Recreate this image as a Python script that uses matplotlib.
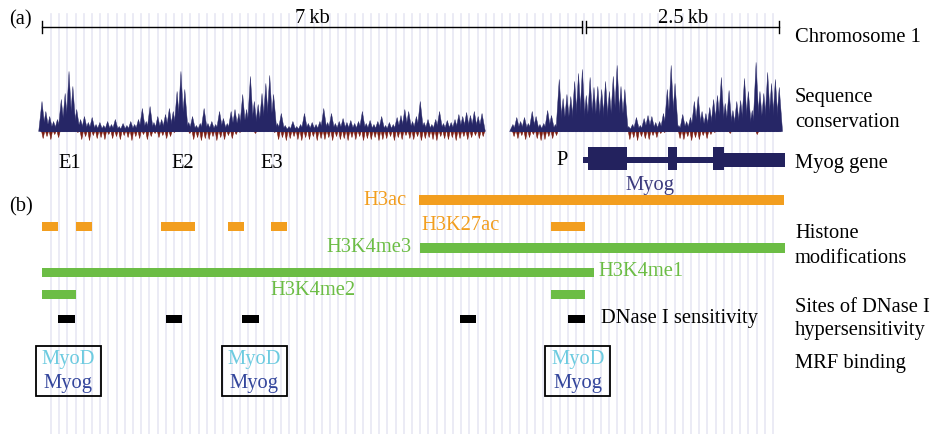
import numpy as np
import matplotlib
matplotlib.use("Agg")
import matplotlib.pyplot as plt
from matplotlib.patches import Rectangle
from matplotlib.collections import PolyCollection

# ---------------------------------------------------------------------------
# Data (positions in kb along the locus, conservation in score units)
# ---------------------------------------------------------------------------

PX_PER_KB = 77.2
X0_PX = 42          # pixel where kb 0 sits

step = 0.05
cons_start = [0.0, 6.10]

cons_up_1 = [30, 20, 15, 10, 12, 32, 38, 60, 45, 22,
             12, 15, 9, 14, 7, 9, 6, 10, 7, 12,
             5, 8, 6, 10, 7, 12, 23, 10, 25, 9,
             15, 12, 17, 23, 20, 40, 60, 42, 9, 15,
             6, 8, 23, 8, 10, 7, 20, 13, 8, 20,
             22, 18, 37, 22, 55, 30, 27, 38, 48, 56,
             37, 8, 18, 6, 5, 10, 5, 7, 18, 8,
             9, 7, 10, 23, 9, 18, 8, 10, 13, 9,
             11, 8, 10, 20, 8, 11, 7, 10, 15, 6,
             9, 7, 14, 16, 22, 20, 10, 15, 30, 9,
             12, 7, 12, 20, 8, 11, 9, 12, 17, 15,
             19, 16, 20, 15, 18]
cons_dn_1 = [8, 6, 9, 4, 7, 0, 0, 0, 0, 2,
             9, 6, 10, 5, 8, 7, 9, 4, 8, 6,
             9, 5, 7, 10, 6, 8, 4, 9, 6, 3,
             7, 5, 8, 6, 2, 0, 0, 0, 3, 9,
             7, 10, 8, 9, 6, 10, 7, 9, 5, 8,
             4, 2, 0, 0, 0, 3, 0, 0, 0, 0,
             2, 9, 7, 10, 8, 6, 9, 10, 7, 9,
             6, 10, 8, 9, 7, 10, 6, 9, 8, 10,
             7, 9, 6, 10, 8, 9, 7, 10, 9, 8,
             6, 10, 7, 9, 5, 8, 9, 6, 10, 8,
             7, 9, 10, 6, 8, 9, 7, 10, 8, 6,
             9, 7, 5, 8, 6]

cons_up_2 = [7, 14, 10, 14, 8, 20, 15, 7, 8, 21,
             16, 7, 52, 33, 37, 35, 50, 58, 62, 36,
             54, 44, 45, 42, 50, 40, 55, 66, 45, 42,
             5, 7, 14, 6, 13, 16, 15, 9, 10, 18,
             42, 66, 48, 6, 17, 10, 14, 30, 35, 20,
             18, 24, 32, 36, 54, 28, 41, 21, 30, 31,
             53, 40, 21, 69, 40, 38, 59, 48, 52, 44]
cons_dn_2 = [6, 8, 5, 9, 7, 4, 8, 10, 9, 6,
             8, 5, 0, 0, 0, 0, 0, 0, 0, 0,
             0, 0, 0, 0, 0, 0, 0, 0, 0, 0,
             9, 7, 10, 6, 8, 9, 5, 7, 3, 2,
             0, 0, 0, 8, 9, 6, 10, 7, 9, 5,
             8, 4, 2, 0, 0, 0, 3, 0, 0, 0,
             0, 0, 0, 4, 0, 0, 0, 0, 0, 0]

h3ac = [(4.88, 9.61)]
h3k27ac = [(0.0, 0.21), (0.44, 0.65), (1.54, 1.98), (2.41, 2.62),
           (2.97, 3.17), (6.59, 7.03)]
h3k4me3 = [(4.90, 9.62)]
h3k4me1 = [(0.0, 7.15)]
h3k4me2 = [(0.0, 0.44), (6.59, 7.03)]
dnase = [(0.21, 0.43), (1.61, 1.81), (2.59, 2.81), (5.41, 5.62), (6.81, 7.03)]
mrf_sites = [0.34, 2.75, 6.94]

gene_span = (7.01, 9.62)
gene_exons = [(7.07, 7.58), (8.11, 8.23), (8.69, 8.83)]
gene_utr = (8.83, 9.62)

elements = ["E1", "E2", "E3", "P"]
element_pos = [0.36, 1.83, 2.97, 6.74]

scale_segments = [(0.0, 7.0), (7.05, 9.55)]
scale_labels = ["7\u2009kb", "2.5\u2009kb"]

# ---------------------------------------------------------------------------
# Theme
# ---------------------------------------------------------------------------

NAVY = "#23225e"
CONS_BLUE = "#262666"
CONS_RED = "#7a1c12"
ORANGE = "#f29e1f"
GREEN = "#6cbd45"
GRID = "#e8e8f3"
CYAN = "#6dcbe0"
MYOG_BLUE = "#34469c"
FONT = "Liberation Serif"
FS = 14.8


def px(x_px):
    return (x_px - X0_PX) / PX_PER_KB


def spikes(xs, hs, base, half_w, sign):
    # one triangle per sample, tip at the sample value
    return [[(x - half_w, base), (x, base + sign * h), (x + half_w, base)]
            for x, h in zip(xs, hs) if h > 0]


plt.rcParams["font.family"] = [FONT, "DejaVu Serif"]

fig = plt.figure(figsize=(9.31, 4.34), dpi=100)
ax = fig.add_axes([0, 0, 1, 1])
ax.set_xlim(px(0), px(931))
ax.set_ylim(434, 0)
ax.axis("off")

# ---- background grid ----
for gx in np.linspace(px(51), px(773), 89):
    ax.plot([gx, gx], [14, 434], color=GRID, lw=1.2, zorder=0)

# ---- scale bar ----
for (a, b), lab in zip(scale_segments, scale_labels):
    ax.plot([a, b], [27, 27], color="black", lw=1.0)
    ax.plot([a, a], [21, 33], color="black", lw=1.0)
    ax.plot([b, b], [21, 33], color="black", lw=1.0)
    ax.text((a + b) / 2, 23, lab, fontsize=FS, ha="center", va="baseline")

ax.text(px(9), 24, "(a)", fontsize=FS, ha="left", va="baseline")
ax.text(px(9), 211, "(b)", fontsize=FS, ha="left", va="baseline")

# ---- conservation ----
base = 130
for start, up, dn in [(cons_start[0], cons_up_1, cons_dn_1),
                      (cons_start[1], cons_up_2, cons_dn_2)]:
    xs = start + step * np.arange(len(up))
    red = PolyCollection(spikes(xs + step * 0.3, dn, base + 0.5, step * 0.45, 1),
                         facecolor=CONS_RED, edgecolor=CONS_RED, lw=0.4, zorder=2)
    blue = PolyCollection(spikes(xs, up, base + 1.5, step * 0.85, -1),
                          facecolor=CONS_BLUE, edgecolor=CONS_BLUE, lw=0.3, zorder=3)
    ax.add_collection(red)
    ax.add_collection(blue)
    ax.plot([xs[0] - step * 0.5, xs[-1] + step * 0.5], [base, base],
            color=CONS_BLUE, lw=2.2, alpha=0.85, zorder=3, solid_capstyle="butt")

# ---- gene model ----
ax.add_patch(Rectangle((gene_span[0], 157), gene_span[1] - gene_span[0], 6,
                       color=NAVY, lw=0, zorder=3))
for a, b in gene_exons:
    ax.add_patch(Rectangle((a, 147), b - a, 23, color=NAVY, lw=0, zorder=3))
ax.add_patch(Rectangle((gene_utr[0], 153), gene_utr[1] - gene_utr[0], 14,
                       color=NAVY, lw=0, zorder=3))
ax.text(px(650), 190, "Myog", fontsize=FS, color="#3c3b7e", ha="center", va="baseline")

for lab, pos in zip(elements, element_pos):
    y = 165 if lab == "P" else 168
    ax.text(pos, y, lab, fontsize=FS, ha="center", va="baseline")


# ---- feature tracks ----
def track(intervals, y, h, color):
    ax.broken_barh([(a, b - a) for a, b in intervals], (y - h / 2, h),
                   color=color, lw=0, zorder=3)


track(h3ac, 200, 10, ORANGE)
track(h3k27ac, 226.5, 9, ORANGE)
track(h3k4me3, 248, 10, GREEN)
track(h3k4me1, 272.5, 9, GREEN)
track(h3k4me2, 294.5, 9, GREEN)
track(dnase, 318.5, 8, "black")

ax.text(px(407), 205, "H3ac", fontsize=FS, color=ORANGE, ha="right", va="baseline")
ax.text(px(421), 230.5, "H3K27ac", fontsize=FS, color=ORANGE, ha="left", va="baseline")
ax.text(px(412), 252.5, "H3K4me3", fontsize=FS, color=GREEN, ha="right", va="baseline")
ax.text(px(598), 276, "H3K4me1", fontsize=FS, color=GREEN, ha="left", va="baseline")
ax.text(px(270), 295, "H3K4me2", fontsize=FS, color=GREEN, ha="left", va="baseline")
ax.text(px(601), 322.5, "DNase I sensitivity", fontsize=FS, ha="left", va="baseline")

# ---- MRF binding boxes ----
box_w = 65 / PX_PER_KB
for c in mrf_sites:
    ax.add_patch(Rectangle((c - box_w / 2, 345.5), box_w, 50, fill=False,
                           edgecolor="black", lw=1.3, zorder=4))
    ax.text(c, 364, "MyoD", fontsize=FS, color=CYAN, ha="center", va="baseline", zorder=5)
    ax.text(c, 388, "Myog", fontsize=FS, color=MYOG_BLUE, ha="center", va="baseline", zorder=5)

# ---- right-hand labels ----
right_labels = [
    ("Chromosome 1", 42),
    ("Sequence", 102),
    ("conservation", 127),
    ("Myog gene", 168),
    ("Histone", 238),
    ("modifications", 263),
    ("Sites of DNase I", 312),
    ("hypersensitivity", 335),
    ("MRF binding", 368),
]
for lab, y in right_labels:
    ax.text(px(795), y, lab, fontsize=FS, ha="left", va="baseline")

fig.savefig("out.png", dpi=100, facecolor="white")
